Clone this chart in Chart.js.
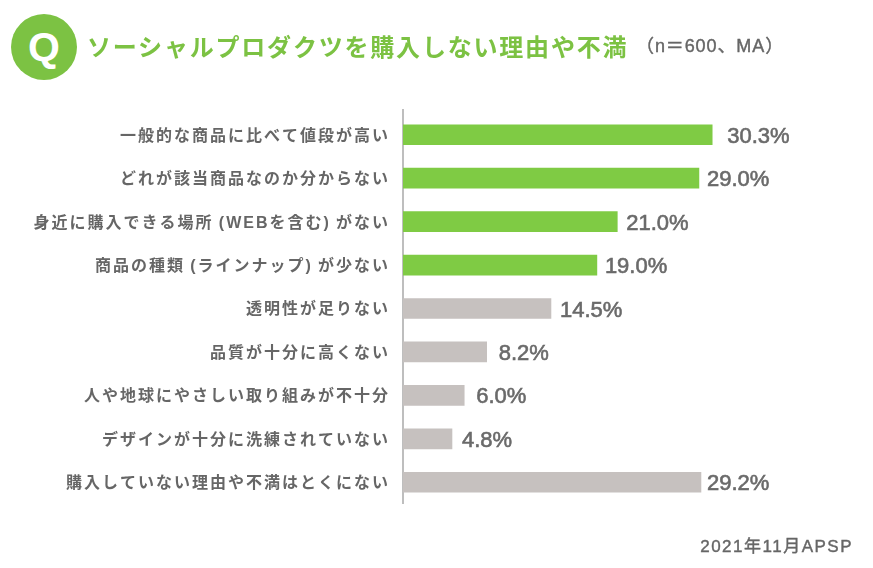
<!DOCTYPE html>
<html lang="ja">
<head>
<meta charset="utf-8">
<title>ソーシャルプロダクツを購入しない理由や不満</title>
<script src="https://cdn.jsdelivr.net/npm/chart.js@4"></script>
<style>
html, body { margin: 0; padding: 0; background: #fff; }
#page { position: relative; width: 873px; height: 568px; overflow: hidden; font-family: "Noto Sans CJK JP", sans-serif; }
#chartBox { position: absolute; left: 0; top: 0; width: 873px; height: 568px; }
#badge { position: absolute; left: 11px; top: 14px; width: 66px; height: 66px; border-radius: 50%; background: #7cc243; color: #fff; font: bold 41px/66px "Liberation Sans", sans-serif; text-align: center; }
#title { position: absolute; left: 87px; top: 28px; color: #7cc243; font-size: 24px; line-height: 36px; font-weight: 700; letter-spacing: 1.8px; white-space: nowrap; }
#sample { position: absolute; left: 636px; top: 33px; color: #666; font: 18px/27px "Liberation Sans", "Noto Sans CJK JP", sans-serif; -webkit-text-stroke: .4px #666; letter-spacing: .9px; white-space: nowrap; }
#source { position: absolute; right: 20px; top: 535px; color: #666; font: 17px/24px "Liberation Sans", "Noto Sans CJK JP", sans-serif; -webkit-text-stroke: .4px #666; letter-spacing: 1.5px; white-space: nowrap; }
</style>
</head>
<body>
<div id="page">
    <div id="chartBox"><canvas id="reasonsChart"></canvas></div>
    <div id="badge">Q</div>
    <div id="title">ソーシャルプロダクツを購入しない理由や不満</div>
    <div id="sample">（n＝600、MA）</div>
    <div id="source">2021年11月APSP</div>
</div>
<script>
"use strict";

var categories = [
    "一般的な商品に比べて値段が高い",
    "どれが該当商品なのか分からない",
    "身近に購入できる場所\u2009(WEBを含む)\u2009がない",
    "商品の種類\u2009(ラインナップ)\u2009が少ない",
    "透明性が足りない",
    "品質が十分に高くない",
    "人や地球にやさしい取り組みが不十分",
    "デザインが十分に洗練されていない",
    "購入していない理由や不満はとくにない"
];
var values = [30.3, 29.0, 21.0, 19.0, 14.5, 8.2, 6.0, 4.8, 29.2];
var barColors = ["#7fcb44", "#7fcb44", "#7fcb44", "#7fcb44", "#c6c1bf", "#c6c1bf", "#c6c1bf", "#c6c1bf", "#c6c1bf"];

// Labels are not evenly spaced from the bars in the original
var labelGaps = [15, 8, 9, 8, 9, 12, 12, 10, 6];

// Spacing for the tick labels, chart.js has no option for it
var tickSpacing = {
    id: "tickSpacing",
    beforeDraw: function(chart) {
        chart.ctx.letterSpacing = "2px";
    },
    beforeDatasetsDraw: function(chart) {
        chart.ctx.letterSpacing = "0px";
    }
};

// Axis line sticks out above the first row
var axisLine = {
    id: "axisLine",
    beforeDatasetsDraw: function(chart) {
        var ctx = chart.ctx;
        var area = chart.chartArea;
        ctx.save();
        ctx.strokeStyle = "#a9a9a9";
        ctx.lineWidth = 1.5;
        ctx.beginPath();
        ctx.moveTo(area.left, area.top - 4);
        ctx.lineTo(area.left, area.bottom);
        ctx.stroke();
        ctx.restore();
    }
};

var valueLabels = {
    id: "valueLabels",
    afterDatasetsDraw: function(chart) {
        var ctx = chart.ctx;
        var bars = chart.getDatasetMeta(0).data;
        ctx.save();
        ctx.fillStyle = "#6a6a6a";
        ctx.strokeStyle = "#6a6a6a";
        ctx.lineWidth = 0.6;
        ctx.font = "22px 'Liberation Sans'";
        ctx.textAlign = "left";
        ctx.textBaseline = "middle";
        for (let i = 0; i < bars.length; i++) {
            var text = values[i].toFixed(1) + "%";
            // Regular weight with a thin stroke, the original is a medium weight
            ctx.fillText(text, bars[i].x + labelGaps[i], bars[i].y + 2);
            ctx.strokeText(text, bars[i].x + labelGaps[i], bars[i].y + 2);
        }
        ctx.restore();
    }
};

Chart.defaults.animation = false;

new Chart(document.getElementById("reasonsChart").getContext("2d"), {
    type: "bar",
    data: {
        labels: categories,
        datasets: [{
            data: values,
            backgroundColor: barColors,
            barThickness: 20
        }]
    },
    options: {
        indexAxis: "y",
        responsive: true,
        maintainAspectRatio: false,
        layout: {
            padding: { left: 0, right: 20, top: 113, bottom: 64 }
        },
        plugins: {
            legend: { display: false },
            title: { display: false },
            tooltip: { enabled: false }
        },
        scales: {
            x: {
                display: false,
                min: 0,
                max: 44.1
            },
            y: {
                afterFit: function(scale) {
                    scale.width = 403;
                },
                grid: { display: false, drawTicks: false },
                border: { display: false },
                ticks: {
                    color: "#666",
                    padding: 13,
                    labelOffset: 1.5,
                    autoSkip: false,
                    font: { family: "'Liberation Sans', 'Noto Sans CJK JP'", size: 16, weight: "bold" }
                }
            }
        }
    },
    plugins: [tickSpacing, axisLine, valueLabels]
});
</script>
</body>
</html>
